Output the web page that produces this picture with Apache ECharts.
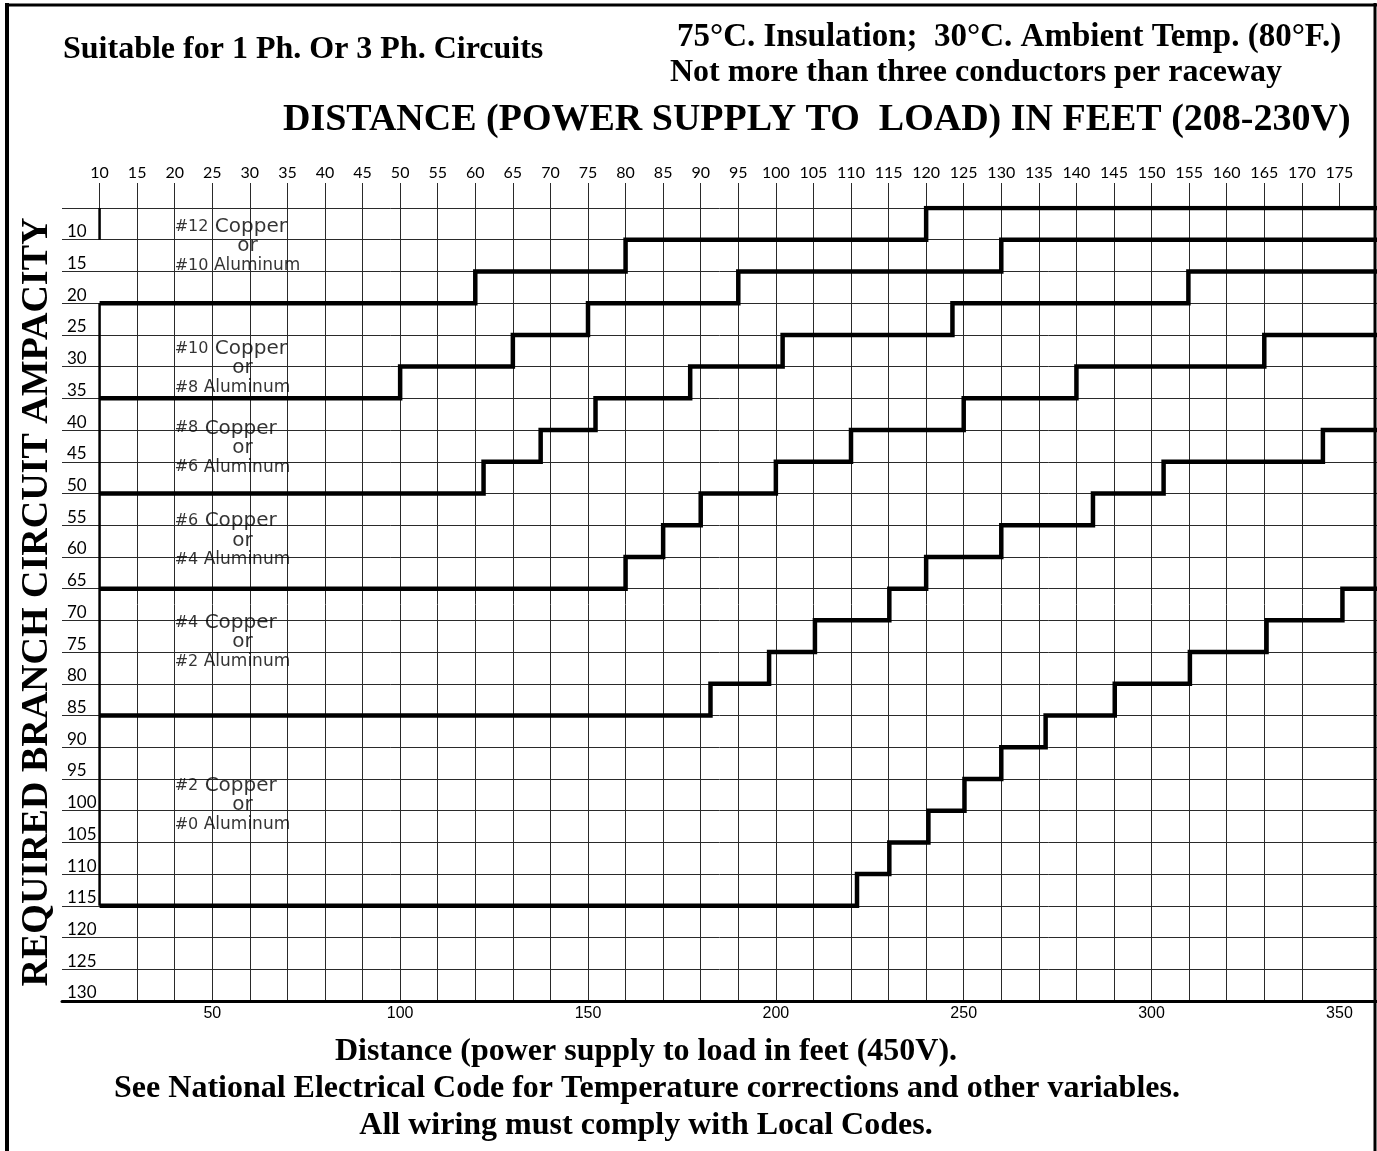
<!DOCTYPE html>
<html>
<head>
<meta charset="utf-8">
<title>Wire size by distance and ampacity</title>
<script src="https://cdn.jsdelivr.net/npm/echarts@6.0.0/dist/echarts.min.js"></script>
<style>
  html, body { margin: 0; padding: 0; background: #fff; }
  #chart { width: 1377px; height: 1151px; }
</style>
</head>
<body>
<div id="chart"></div>
<script>
// distance in feet, 208-230V (top axis)
const topTicks = [10, 15, 20, 25, 30, 35, 40, 45, 50, 55, 60, 65, 70, 75, 80, 85, 90,
  95, 100, 105, 110, 115, 120, 125, 130, 135, 140, 145, 150, 155, 160, 165, 170, 175];
// distance in feet, 450V (bottom axis)
const bottomTicks = [50, 100, 150, 200, 250, 300, 350];
// required branch circuit ampacity
const ampTicks = [10, 15, 20, 25, 30, 35, 40, 45, 50, 55, 60, 65, 70, 75, 80, 85, 90,
  95, 100, 105, 110, 115, 120, 125, 130];

// boundaries between wire sizes: distance where the step begins, ampacity of the step
const cu12Dist = [10, 60, 80, 120, 180];
const cu12Amp = [20, 15, 10, 5, 5];
const cu10Dist = [10, 50, 65, 75, 95, 130, 180];
const cu10Amp = [35, 30, 25, 20, 15, 10, 10];
const cu8Dist = [10, 61.1, 68.7, 76, 88.6, 100.9, 123.5, 154.9, 180];
const cu8Amp = [50, 45, 40, 35, 30, 25, 20, 15, 15];
const cu6Dist = [10, 80, 85, 90, 100, 110, 125, 140, 165, 180];
const cu6Amp = [65, 60, 55, 50, 45, 40, 35, 30, 25, 25];
const cu4Dist = [10, 91.3, 99.1, 105.2, 115.1, 120, 130, 142.2, 151.6, 172.8, 180];
const cu4Amp = [85, 80, 75, 70, 65, 60, 55, 50, 45, 40, 40];
const cu2Dist = [10, 110.8, 115.1, 120.3, 125.1, 130, 135.9, 145.1, 155.1, 165.3, 175.4, 180];
const cu2Amp = [115, 110, 105, 100, 95, 90, 85, 80, 75, 70, 65, 65];

// zone labels
const zoneCopper = ['#12', '#10', '#8', '#6', '#4', '#2'];
const zoneAluminum = ['#10', '#8', '#6', '#4', '#2', '#0'];
const zoneAmp = [11, 30.2, 42.8, 57.4, 73.4, 99.1];

const gridColor = '#2a2a2a';
const serif = '"Liberation Serif", "Times New Roman", serif';
const sans = '"DejaVu Sans"';

function pairs(xs, ys) {
  return xs.map((x, i) => [x, ys[i]]);
}

function stepSeries(name, xs, ys) {
  return {
    name: name,
    type: 'line',
    step: 'end',
    symbol: 'none',
    silent: true,
    z: 5,
    lineStyle: { color: '#000', width: 4.5, join: 'miter' },
    data: pairs(xs, ys)
  };
}

function text(x, y, str, size, align) {
  return {
    type: 'text', x: x, y: y, z: 100,
    style: { text: str, font: 'bold ' + size + 'px ' + serif, fill: '#000', align: align, verticalAlign: 'middle' }
  };
}

const chart = echarts.init(document.getElementById('chart'));

chart.setOption({
  animation: false,
  backgroundColor: '#fff',
  grid: { left: 62, top: 208, right: -6, bottom: 150 },
  xAxis: [
    {
      type: 'value',
      position: 'top',
      min: 5,
      max: 180,
      interval: 5,
      axisLine: { show: false },
      axisTick: { show: true, length: 25, customValues: topTicks, lineStyle: { color: gridColor, width: 1 } },
      axisLabel: { customValues: topTicks, margin: 27, fontFamily: 'Lato', fontSize: 16, color: '#000' },
      splitLine: { show: true, showMinLine: false, showMaxLine: false, lineStyle: { color: gridColor, width: 1 } }
    },
    {
      type: 'value',
      position: 'bottom',
      min: 10,
      max: 360,
      axisLine: { show: true, lineStyle: { color: '#000', width: 3 } },
      axisTick: { show: false },
      axisLabel: { customValues: bottomTicks, margin: 5, fontFamily: '"Liberation Sans", Arial', fontSize: 16, color: '#000' },
      splitLine: { show: false }
    }
  ],
  yAxis: {
    type: 'value',
    inverse: true,
    min: 5,
    max: 130,
    interval: 5,
    axisLine: { show: false },
    axisTick: { show: false },
    axisLabel: {
      inside: true, customValues: ampTicks, margin: 5, align: 'left', verticalAlign: 'bottom',
      fontFamily: 'Lato', fontSize: 17, lineHeight: 16, color: '#000'
    },
    splitLine: { show: true, lineStyle: { color: gridColor, width: 1 } }
  },
  series: [
    stepSeries('#12 / #10 Cu', cu12Dist, cu12Amp),
    stepSeries('#10 / #8 Cu', cu10Dist, cu10Amp),
    stepSeries('#8 / #6 Cu', cu8Dist, cu8Amp),
    stepSeries('#6 / #4 Cu', cu6Dist, cu6Amp),
    stepSeries('#4 / #2 Cu', cu4Dist, cu4Amp),
    stepSeries('#2 Cu', cu2Dist, cu2Amp),
    {
      type: 'line', symbol: 'none', silent: true, z: 4,
      lineStyle: { color: '#000', width: 2.5 },
      data: [[10, 5], [10, 10]]
    },
    {
      type: 'line', symbol: 'none', silent: true, z: 4,
      lineStyle: { color: '#000', width: 2.5 },
      data: [[10, 20], [10, 115]]
    },
    {
      type: 'scatter',
      symbolSize: 0,
      silent: true,
      z: 6,
      data: zoneAmp.map(a => [20, a]),
      label: {
        show: true,
        position: 'right',
        distance: 0,
        align: 'left',
        verticalAlign: 'middle',
        formatter: p => '{n|' + zoneCopper[p.dataIndex] + '}{c| Copper}\n{o|or}\n{n|' +
          zoneAluminum[p.dataIndex] + '}{a| Aluminum}',
        rich: {
          n: { fontFamily: sans, fontSize: 16, color: '#000', lineHeight: 20, align: 'left' },
          c: { fontFamily: sans, fontSize: 20, color: '#000', lineHeight: 20, align: 'left' },
          o: { fontFamily: sans, fontSize: 20, color: '#000', lineHeight: 19, align: 'center', padding: [0, 0, 0, 20] },
          a: { fontFamily: sans, fontSize: 17, color: '#000', lineHeight: 20, align: 'left' }
        }
      }
    }
  ],
  graphic: [
    { type: 'line', z: 100, shape: { x1: 7, y1: 3, x2: 7, y2: 1151 }, style: { stroke: '#000', lineWidth: 4 } },
    { type: 'line', z: 100, shape: { x1: 5, y1: 5, x2: 1377, y2: 5 }, style: { stroke: '#000', lineWidth: 3 } },
    { type: 'line', z: 100, shape: { x1: 1375, y1: 3, x2: 1375, y2: 1151 }, style: { stroke: '#000', lineWidth: 3 } },
    text(63, 50, 'Suitable for 1 Ph. Or 3 Ph. Circuits', 32, 'left'),
    text(677, 37, '75°C. Insulation;  30°C. Ambient Temp. (80°F.)', 33, 'left'),
    text(670, 73, 'Not more than three conductors per raceway', 32, 'left'),
    text(283, 120, 'DISTANCE (POWER SUPPLY TO  LOAD) IN FEET (208-230V)', 38, 'left'),
    {
      type: 'text', x: 37, y: 602, rotation: Math.PI / 2, z: 100,
      style: { text: 'REQUIRED BRANCH CIRCUIT AMPACITY', font: 'bold 38px ' + serif, fill: '#000', align: 'center', verticalAlign: 'middle' }
    },
    text(646, 1052, 'Distance (power supply to load in feet (450V).', 32, 'center'),
    text(647, 1089, 'See National Electrical Code for Temperature corrections and other variables.', 32, 'center'),
    text(646, 1126, 'All wiring must comply with Local Codes.', 32, 'center')
  ]
});

window.addEventListener('resize', () => chart.resize());
</script>
</body>
</html>
